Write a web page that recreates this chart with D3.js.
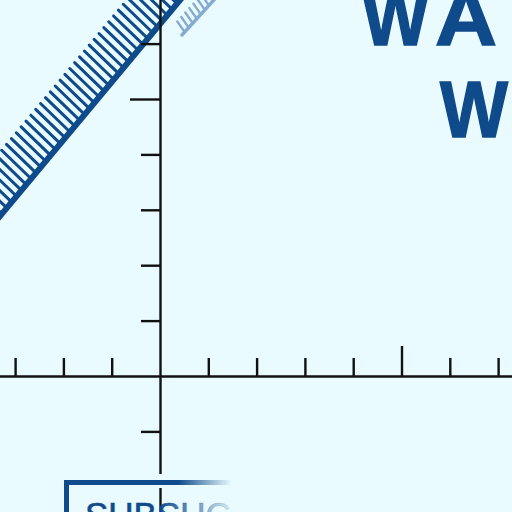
<!DOCTYPE html>
<html>
<head>
<meta charset="utf-8">
<script src="https://cdn.jsdelivr.net/npm/d3@7"></script>
<style>
  html, body { margin: 0; padding: 0; background: #e9fbfe; }
  svg { display: block; }
</style>
</head>
<body>
<svg id="chart" width="512" height="512"></svg>
<script>
//Tick positions on both axes (axis units, origin where the axes cross)
var xTicks = [-3, -2, -1, 1, 2, 3, 4, 5, 6, 7];
var yTicks = [-1, 1, 2, 3, 4, 5, 6];
var majorTick = 5;

//The hatched wall, and the faded one behind it
var wallX = [-3.5, 0.6];
var wallY = [2.69, 6.98];
var wall2X = [0.455, 1.15];
var wall2Y = [6.155, 6.82];

//Texts
var titleLine1 = ["W", "A", "L"];
var titleLine2 = ["W"];
var boxLabel = "SUBSUC";

var blue = "#0f4b8b";
var bg = "#e9fbfe";

var svg = d3.select("svg#chart");

svg.append("rect")
    .attr("width", 512).attr("height", 512)
    .attr("fill", bg);

//Scales: one x tick = 48.3px, one y tick = 55.4px
var x = d3.scaleLinear().domain([-4, 8]).range([160 - 4 * 48.3, 160 + 8 * 48.3]);
var y = d3.scaleLinear().domain([-3, 7]).range([376 + 3 * 55.4, 376 - 7 * 55.4]);

var defs = svg.append("defs");
var fadeLine = defs.append("linearGradient")
    .attr("id", "fadeLine")
    .attr("gradientUnits", "userSpaceOnUse")
    .attr("x1", 178).attr("x2", 232).attr("y1", 0).attr("y2", 0);
fadeLine.append("stop").attr("offset", 0).attr("stop-color", blue).attr("stop-opacity", 1);
fadeLine.append("stop").attr("offset", 1).attr("stop-color", blue).attr("stop-opacity", 0);

var fadeText = defs.append("linearGradient")
    .attr("id", "fadeText")
    .attr("gradientUnits", "userSpaceOnUse")
    .attr("x1", 158).attr("x2", 235).attr("y1", 0).attr("y2", 0);
fadeText.append("stop").attr("offset", 0).attr("stop-color", blue).attr("stop-opacity", 1);
fadeText.append("stop").attr("offset", 1).attr("stop-color", blue).attr("stop-opacity", 0.05);

//Draws a wall line with hatches on its upper-left side
function drawWall(g, xs, ys, opts) {
  var p0 = [x(xs[0]), y(ys[0])];
  var p1 = [x(xs[1]), y(ys[1])];
  var len = Math.hypot(p1[0] - p0[0], p1[1] - p0[1]);
  var ux = (p1[0] - p0[0]) / len, uy = (p1[1] - p0[1]) / len;
  var hx = -Math.cos(opts.angle), hy = -Math.sin(opts.angle);

  g.selectAll("line.hatch")
    .data(d3.range(opts.start, len, opts.step))
    .enter().append("line")
      .attr("class", "hatch")
      .attr("x1", function (t) { return p0[0] + ux * t; })
      .attr("y1", function (t) { return p0[1] + uy * t; })
      .attr("x2", function (t) { return p0[0] + ux * t + hx * opts.hatch; })
      .attr("y2", function (t) { return p0[1] + uy * t + hy * opts.hatch; })
      .attr("stroke", opts.color)
      .attr("stroke-width", opts.hatchWidth)
      .attr("stroke-linecap", "round");

  g.append("line")
      .attr("x1", p0[0]).attr("y1", p0[1])
      .attr("x2", p1[0]).attr("y2", p1[1])
      .attr("stroke", opts.color)
      .attr("stroke-width", opts.width)
      .attr("stroke-linecap", "round");
}

drawWall(svg.append("g"), wall2X, wall2Y,
  { angle: 55 * Math.PI / 180, hatch: 13, step: 6, start: 4, hatchWidth: 2.4, width: 3.4, color: "#86abd1" });
drawWall(svg.append("g"), wallX, wallY,
  { angle: 44 * Math.PI / 180, hatch: 41, step: 7.6, start: 2, hatchWidth: 3, width: 6, color: blue });

//Axes
var gx = svg.append("g")
    .attr("transform", "translate(0," + y(0) + ")")
    .call(d3.axisTop(x).tickValues(xTicks).tickSize(18).tickSizeOuter(0).tickFormat(""));
gx.selectAll(".tick line").filter(function (d) { return d === majorTick; }).attr("y2", -30);

var gy = svg.append("g")
    .attr("transform", "translate(" + x(0) + ",0)")
    .call(d3.axisLeft(y).tickValues(yTicks).tickSize(19).tickSizeOuter(0).tickFormat(""));
gy.selectAll(".tick line").filter(function (d) { return d === majorTick; }).attr("x2", -30);

svg.selectAll(".domain, .tick line")
    .attr("stroke", "#111")
    .attr("stroke-width", 2.4);

//Gap in the vertical axis where the box edge crosses it
svg.append("rect")
    .attr("x", x(0) - 8).attr("y", 474)
    .attr("width", 16).attr("height", 14)
    .attr("fill", bg);

//Box at the bottom
svg.append("path")
    .attr("d", "M66.5,540V482.5H236")
    .attr("fill", "none")
    .attr("stroke", "url(#fadeLine)")
    .attr("stroke-width", 5);

svg.append("text")
    .attr("x", 85).attr("y", 527)
    .attr("font-family", "'Liberation Sans', Arial, sans-serif")
    .attr("font-size", 35)
    .attr("fill", "url(#fadeText)")
    .attr("stroke", "url(#fadeText)")
    .attr("stroke-width", 0.6)
    .text(boxLabel);

//Big title letters
var titleFont = "'Liberation Sans', Arial, sans-serif";
var line1X = [362, 435, 508], line1W = [67, 62, 60];
titleLine1.forEach(function (ch, i) {
  svg.append("text")
      .attr("x", line1X[i]).attr("y", 45)
      .attr("font-family", titleFont)
      .attr("font-weight", "bold")
      .attr("font-size", 80)
      .attr("textLength", line1W[i])
      .attr("lengthAdjust", "spacingAndGlyphs")
      .attr("fill", blue)
      .attr("stroke", blue)
      .attr("stroke-width", 1.5)
      .text(ch);
});
titleLine2.forEach(function (ch) {
  svg.append("text")
      .attr("x", 440).attr("y", 137)
      .attr("font-family", titleFont)
      .attr("font-weight", "bold")
      .attr("font-size", 80)
      .attr("textLength", 68)
      .attr("lengthAdjust", "spacingAndGlyphs")
      .attr("fill", blue)
      .attr("stroke", blue)
      .attr("stroke-width", 1.5)
      .text(ch);
});
</script>
</body>
</html>
